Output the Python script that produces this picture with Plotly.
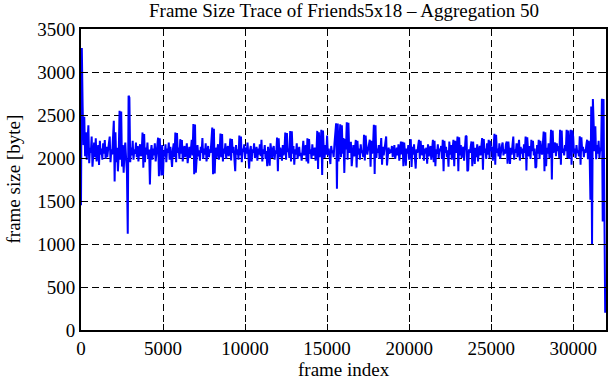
import plotly.graph_objects as go

# Aggregated frame sizes (bytes), one value per 50 frames
frame_size = [
    1450, 3280, 2600, 2150, 2480, 2020, 2300, 1980, 2200, 2380, 1940, 2120, 2060, 2250, 1900, 2100, 2180, 2010, 2230, 1960,
    2080, 2150, 1920, 2200, 2040, 2110, 1980, 2170, 2050, 2210, 1990, 2130, 2010, 2080, 2160, 2250, 1950, 2100, 2040, 2190,
    2434, 1728, 2300, 1950, 2120, 1845, 2050, 2550, 1980, 2540, 1900, 2150, 1830, 2080, 2180, 1990, 1830, 1120, 2725, 2700,
    1950, 2120, 2030, 2200, 1980, 2100, 2050, 2180, 2010, 2140, 1960, 2090, 2160, 2020, 2070, 2295, 1888, 2280, 1950, 2120,
    2040, 2180, 1990, 2100, 1693, 2060, 2150, 1980, 2110, 2030, 2170, 1960, 2080, 2140, 2236, 1787, 2230, 2000, 1796, 2150,
    1800, 2090, 2020, 2160, 1950, 2110, 2060, 2180, 1980, 2130, 2040, 1896, 2100, 2170, 2010, 2296, 1950, 2290, 2060, 2120,
    1990, 2219, 2050, 2210, 1960, 2100, 2140, 2010, 2080, 2170, 1940, 2060, 2130, 2000, 2110, 2212, 2030, 2396, 1811, 2390,
    1830, 2080, 2150, 2020, 2090, 1970, 2130, 2060, 2231, 1990, 2110, 2040, 2170, 1960, 2080, 2140, 2010, 2100, 2060, 2180,
    2354, 1811, 2340, 1820, 2120, 2000, 2090, 2160, 1980, 2070, 2285, 2010, 2280, 1960, 2110, 2050, 2170, 1990, 2100, 2140,
    2020, 2080, 2227, 1970, 2220, 2060, 2130, 2000, 1846, 2150, 2040, 2100, 1980, 2262, 2030, 2250, 1950, 2110, 2070, 2160,
    1990, 2120, 2050, 2180, 2010, 1877, 2090, 2140, 1960, 2100, 2060, 2170, 2000, 2080, 2130, 1970, 2110, 2040, 2160, 2020,
    2212, 1960, 2100, 2050, 2150, 1990, 2080, 1904, 2130, 2020, 1910, 2170, 2060, 2000, 2110, 2140, 1980, 2090, 2050, 2238,
    1846, 2230, 2010, 2120, 2060, 1970, 2150, 2030, 2090, 2296, 1980, 2290, 2070, 2110, 2000, 2315, 1960, 2310, 2050, 2140,
    1923, 2100, 2040, 2170, 1990, 2080, 2130, 2020, 2060, 1970, 2110, 2200, 2030, 2090, 2150, 1960, 2230, 1935, 2220, 2050,
    2100, 1990, 2160, 2030, 2080, 2120, 1970, 2060, 2315, 1873, 2300, 2010, 2140, 2327, 1804, 2320, 2080, 2000, 2150, 2040,
    2260, 2030, 2110, 1990, 1930, 2140, 2060, 2090, 2010, 2170, 2269, 2404, 1642, 2400, 1960, 2120, 2392, 2010, 2380, 2050,
    2231, 1827, 2220, 2100, 2415, 1980, 2410, 2060, 2130, 2190, 1904, 2080, 2150, 2020, 2090, 2210, 1890, 2200, 2040, 2110,
    1980, 2160, 2060, 2090, 2010, 2269, 1970, 2260, 2120, 2040, 2100, 2180, 2212, 1900, 2200, 2050, 2140, 2385, 1815, 2380,
    2000, 2110, 2060, 2150, 1990, 2080, 2231, 1923, 2130, 2030, 2090, 2160, 2250, 1913, 2080, 2120, 2050, 2100, 2060, 2140,
    2010, 2090, 2150, 1990, 2070, 2120, 2030, 2160, 1970, 2100, 2192, 2040, 2190, 1904, 2180, 2060, 1910, 2110, 2050, 2150,
    1980, 2090, 2219, 1896, 2130, 2040, 2160, 2010, 1877, 2100, 2060, 2140, 2212, 1990, 2200, 2080, 2030, 2150, 1970, 2110,
    2050, 2120, 1935, 2160, 2020, 2090, 2140, 1980, 2070, 2212, 1950, 2200, 1904, 2100, 2050, 2160, 2000, 2110, 2080, 2140,
    1990, 2212, 1846, 2200, 2060, 2130, 2010, 2090, 1900, 2192, 2040, 2150, 1980, 2100, 2212, 1904, 2200, 2060, 2120, 2250,
    1846, 2240, 2030, 2150, 2000, 2090, 2130, 1970, 2110, 2258, 2250, 1846, 1860, 2100, 2060, 2140, 2192, 1904, 2190, 2050,
    1930, 2120, 2010, 2160, 1960, 2080, 2140, 2030, 2100, 2231, 1865, 2220, 2060, 2110, 1990, 2170, 2040, 2212, 2000, 2200,
    2080, 2130, 1970, 2150, 2281, 1923, 2270, 2060, 2110, 2020, 2170, 1990, 2090, 2140, 2180, 2030, 2100, 2050, 2160, 2192,
    1935, 2190, 2070, 1930, 2120, 2040, 2150, 2250, 1980, 2100, 2060, 2170, 2010, 2090, 2212, 1970, 2130, 2050, 2110, 2000,
    2160, 2060, 2250, 1854, 2240, 2090, 2020, 2140, 1990, 2212, 2080, 2200, 2030, 2110, 1885, 1900, 2150, 2050, 2212, 1990,
    2200, 2100, 2040, 2160, 2308, 1846, 2300, 1904, 2120, 2050, 2170, 2000, 2090, 2327, 1750, 2320, 2060, 2130, 2180, 2020,
    2170, 2080, 2140, 2000, 2327, 1923, 2320, 2060, 2110, 2030, 2150, 2080, 2327, 2000, 2320, 1990, 2140, 2327, 1923, 2320,
    2250, 2050, 2110, 2000, 2150, 2060, 2090, 2020, 2252, 1923, 2240, 2080, 2130, 2010, 2100, 2060, 2150, 2213, 1985, 2200,
    2060, 1515, 2600, 1000, 2686, 2300, 2080, 2370, 1985, 2150, 2050, 2200, 2000, 2120, 2080, 2690, 1263, 2686, 1300, 200,
]
aggregation = 50
frame_index = [i * aggregation for i in range(len(frame_size))]

x_ticks = [0, 5000, 10000, 15000, 20000, 25000, 30000]
y_ticks = [0, 500, 1000, 1500, 2000, 2500, 3000, 3500]

title_text = "Frame Size Trace of Friends5x18 \u2013 Aggregation 50"
x_title = "frame index"
y_title = "frame size [byte]"

FONT = "Liberation Serif"

fig = go.Figure()
fig.add_trace(go.Scatter(
    x=frame_index, y=frame_size, mode="lines",
    line=dict(color="#0000ff", width=2),
    showlegend=False, hoverinfo="skip",
))

axis_common = dict(
    showline=True, linecolor="black", linewidth=2, mirror="ticks",
    ticks="inside", ticklen=6, tickwidth=1, tickcolor="black",
    showgrid=True, gridcolor="black", gridwidth=1, griddash="7px,4px",
    zeroline=False,
    tickfont=dict(family=FONT, size=19, color="black"),
)

fig.update_xaxes(range=[0, 32000], tickvals=x_ticks,
                 ticktext=[str(v) for v in x_ticks], **axis_common)
fig.update_yaxes(range=[0, 3500], tickvals=y_ticks,
                 ticktext=[str(v) for v in y_ticks], **axis_common)

fig.update_layout(
    width=611, height=380,
    margin=dict(l=81, r=3, t=29, b=50),
    paper_bgcolor="white", plot_bgcolor="white",
    font=dict(family=FONT, color="black"),
    annotations=[
        dict(text=title_text, xref="paper", yref="paper", x=0.5, y=1,
             yshift=19, xanchor="center", yanchor="middle", showarrow=False,
             font=dict(family=FONT, size=19, color="black")),
        dict(text=x_title, xref="paper", yref="paper", x=0.5, y=0,
             yshift=-39, xanchor="center", yanchor="middle", showarrow=False,
             font=dict(family=FONT, size=19, color="black")),
        dict(text=y_title, xref="paper", yref="paper", x=0, y=0.5,
             xshift=-68, xanchor="center", yanchor="middle", showarrow=False,
             textangle=-90, font=dict(family=FONT, size=19, color="black")),
    ],
)

fig.write_html(
    "out.html",
    config={"displayModeBar": False, "staticPlot": True},
    post_script="document.body.style.margin='0';document.body.style.overflow='hidden';",
)
